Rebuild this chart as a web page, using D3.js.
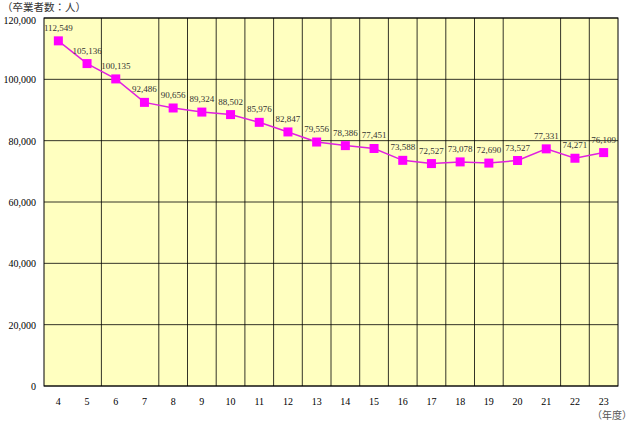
<!DOCTYPE html>
<html><head><meta charset="utf-8">
<script src="https://cdn.jsdelivr.net/npm/d3@7"></script>
<style>body{margin:0;background:#fff}</style>
</head><body>
<script>
const years = ["4","5","6","7","8","9","10","11","12","13","14","15","16","17","18","19","20","21","22","23"];
const graduates = [112549,105136,100135,92486,90656,89324,88502,85976,82847,79556,78386,77451,73588,72527,73078,72690,73527,77331,74271,76109];
const yTicks = [0,20000,40000,60000,80000,100000,120000];
const skipGrid = [1,3,17]; // boundaries with no vertical line in the original

const W = 640, H = 423;
const m = {left: 44, right: 22, top: 18, bottom: 37};
const svg = d3.select("body").append("svg").attr("width", W).attr("height", H)
  .style("font-family", "'Liberation Serif', serif");

const x = d3.scaleBand().domain(years).range([m.left, W - m.right]);
const y = d3.scaleLinear().domain([0, 120000]).range([H - m.bottom, m.top]);

svg.append("rect").attr("x", m.left).attr("y", m.top)
  .attr("width", W - m.left - m.right).attr("height", H - m.top - m.bottom)
  .attr("fill", "#ffffc0").attr("stroke", "#000");

// horizontal grid
svg.selectAll("line.h").data(yTicks).enter().append("line")
  .attr("x1", m.left).attr("x2", W - m.right)
  .attr("y1", d => y(d)).attr("y2", d => y(d))
  .attr("stroke", "#000").attr("stroke-width", 0.8);

// vertical grid
const bounds = d3.range(1, years.length).filter(k => !skipGrid.includes(k));
svg.selectAll("line.v").data(bounds).enter().append("line")
  .attr("x1", k => m.left + k * x.step()).attr("x2", k => m.left + k * x.step())
  .attr("y1", m.top).attr("y2", H - m.bottom)
  .attr("stroke", "#000").attr("stroke-width", 0.8);

// y axis labels
svg.selectAll("text.y").data(yTicks).enter().append("text")
  .attr("x", 36).attr("y", d => y(d) + (d === 120000 ? 6 : 4)).attr("text-anchor", "end")
  .attr("font-size", 10).text(d => d3.format(",")(d));

// x axis labels
svg.selectAll("text.x").data(years).enter().append("text")
  .attr("x", d => x(d) + x.bandwidth() / 2).attr("y", H - m.bottom + 19)
  .attr("text-anchor", "middle").attr("font-size", 10).text(d => d);

const cx = (d, i) => x(years[i]) + x.bandwidth() / 2;
svg.append("path").datum(graduates)
  .attr("d", d3.line().x(cx).y(d => y(d)))
  .attr("fill", "none").attr("stroke", "#e020e0").attr("stroke-width", 1.5);

svg.selectAll("rect.pt").data(graduates).enter().append("rect")
  .attr("x", (d, i) => cx(d, i) - 4.5).attr("y", d => y(d) - 4.5)
  .attr("width", 9).attr("height", 9).attr("fill", "#ff00ff");

svg.selectAll("text.lbl").data(graduates).enter().append("text")
  .attr("x", cx).attr("y", d => y(d) - 10).attr("text-anchor", "middle")
  .attr("font-size", 9).attr("fill", "#333").text(d => d3.format(",")(d));

svg.append("text").attr("x", 2).attr("y", 11).attr("font-size", 10.5)
  .attr("font-family", "'Noto Sans CJK JP', sans-serif").attr("fill", "#333")
  .text("（卒業者数：人）");
svg.append("text").attr("x", 612).attr("y", 419).attr("font-size", 10)
  .attr("text-anchor", "middle")
  .attr("font-family", "'Noto Sans CJK JP', sans-serif").attr("fill", "#555")
  .text("（年度）");
</script>
</body></html>
